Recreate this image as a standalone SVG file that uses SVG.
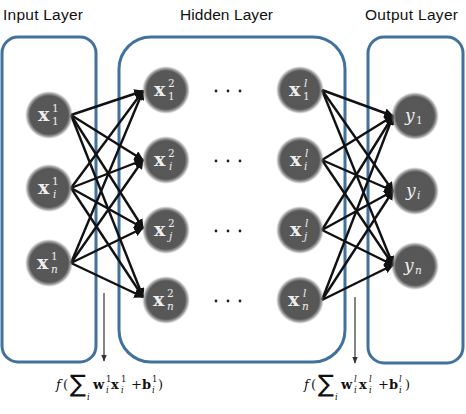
<svg xmlns="http://www.w3.org/2000/svg" width="466" height="414" viewBox="0 0 466 414">
<style>
.box{fill:none;stroke:#41719c;stroke-width:3}
.hdr{font-family:"Liberation Sans",Arial,sans-serif;font-size:15.5px;fill:#111}
.e{stroke:#111;stroke-width:2.4;fill:none;marker-end:url(#ah)}
.v{stroke:#333;stroke-width:1.2;fill:none;marker-end:url(#ah2)}
.nt{font-family:"DejaVu Serif",serif;fill:#eee}
.xb{font-weight:bold;font-size:19px}
.sp{font-size:10.5px}
.it{font-style:italic}
.fm{font-family:"DejaVu Serif",serif;fill:#111;font-size:13px}
.fs{font-family:"DejaVu Serif",serif;fill:#111;font-size:8.5px}
.sg{font-family:"DejaVu Sans",sans-serif;fill:#111;font-size:24px}
</style>
<defs>
<radialGradient id="ng">
<stop offset="0" stop-color="#585858"/>
<stop offset="0.8" stop-color="#575757"/>
<stop offset="0.9" stop-color="#777" stop-opacity="0.7"/>
<stop offset="1" stop-color="#999" stop-opacity="0"/>
</radialGradient>
<marker id="ah" viewBox="0 0 10 10" refX="9" refY="5" markerWidth="4" markerHeight="4" orient="auto" markerUnits="strokeWidth">
<path d="M0,0 L10,5 L0,10 z" fill="#111"/>
</marker>
<marker id="ah2" viewBox="0 0 10 10" refX="9" refY="5" markerWidth="6" markerHeight="6" orient="auto" markerUnits="strokeWidth">
<path d="M0,1 L10,5 L0,9 z" fill="#333"/>
</marker>
</defs>
<rect width="466" height="414" fill="#fff"/>

<text class="hdr" x="3" y="20" textLength="80">Input Layer</text>
<text class="hdr" x="180" y="20" textLength="93">Hidden Layer</text>
<text class="hdr" x="365" y="20" textLength="93">Output Layer</text>

<g id="input-layer"><rect class="box" x="2" y="37" width="94" height="325" rx="16"/></g>
<g id="hidden-layer"><rect class="box" x="119" y="37" width="226" height="325" rx="32"/></g>
<g id="output-layer"><rect class="box" x="368" y="37" width="95" height="326" rx="16"/></g>

<g id="connectors">
<line class="e" x1="71" y1="115" x2="143" y2="91"/>
<line class="e" x1="71" y1="115" x2="143" y2="160"/>
<line class="e" x1="71" y1="115" x2="143" y2="228"/>
<line class="e" x1="71" y1="115" x2="143" y2="297"/>
<line class="e" x1="71" y1="188" x2="143" y2="91"/>
<line class="e" x1="71" y1="188" x2="143" y2="160"/>
<line class="e" x1="71" y1="188" x2="143" y2="228"/>
<line class="e" x1="71" y1="188" x2="143" y2="297"/>
<line class="e" x1="71" y1="263" x2="143" y2="91"/>
<line class="e" x1="71" y1="263" x2="143" y2="160"/>
<line class="e" x1="71" y1="263" x2="143" y2="228"/>
<line class="e" x1="71" y1="263" x2="143" y2="297"/>

<line class="e" x1="322" y1="90" x2="393" y2="116"/>
<line class="e" x1="322" y1="90" x2="393" y2="191"/>
<line class="e" x1="322" y1="90" x2="393" y2="265"/>
<line class="e" x1="322" y1="160" x2="393" y2="116"/>
<line class="e" x1="322" y1="160" x2="393" y2="191"/>
<line class="e" x1="322" y1="160" x2="393" y2="265"/>
<line class="e" x1="322" y1="230" x2="393" y2="116"/>
<line class="e" x1="322" y1="230" x2="393" y2="191"/>
<line class="e" x1="322" y1="230" x2="393" y2="265"/>
<line class="e" x1="322" y1="300" x2="393" y2="116"/>
<line class="e" x1="322" y1="300" x2="393" y2="191"/>
<line class="e" x1="322" y1="300" x2="393" y2="265"/>

<line class="v" x1="104" y1="293" x2="104" y2="361"/>
<line class="v" x1="355" y1="297" x2="355" y2="363"/>
</g>

<g id="in1"><circle cx="49" cy="115" r="24" fill="url(#ng)"/><text class="nt xb" x="38" y="121">x</text><text class="nt sp" x="52" y="112">1</text><text class="nt sp" x="52" y="125">1</text></g>
<g id="in2"><circle cx="49" cy="188" r="24" fill="url(#ng)"/><text class="nt xb" x="38" y="194">x</text><text class="nt sp" x="52" y="185">1</text><text class="nt sp it" x="53" y="198">i</text></g>
<g id="in3"><circle cx="49" cy="263" r="24" fill="url(#ng)"/><text class="nt xb" x="37" y="269">x</text><text class="nt sp" x="51" y="260">1</text><text class="nt sp it" x="51" y="273">n</text></g>

<g id="h1a"><circle cx="166" cy="90" r="24" fill="url(#ng)"/><text class="nt xb" x="154" y="96">x</text><text class="nt sp" x="168" y="87">2</text><text class="nt sp" x="168" y="100">1</text></g>
<g id="h2a"><circle cx="166" cy="160" r="24" fill="url(#ng)"/><text class="nt xb" x="154" y="166">x</text><text class="nt sp" x="168" y="157">2</text><text class="nt sp it" x="169" y="170">i</text></g>
<g id="h3a"><circle cx="166" cy="230" r="24" fill="url(#ng)"/><text class="nt xb" x="154" y="236">x</text><text class="nt sp" x="168" y="227">2</text><text class="nt sp it" x="169" y="240">j</text></g>
<g id="h4a"><circle cx="166" cy="300" r="24" fill="url(#ng)"/><text class="nt xb" x="153" y="306">x</text><text class="nt sp" x="167" y="297">2</text><text class="nt sp it" x="167" y="310">n</text></g>

<g id="dots" fill="#222">
<circle cx="216" cy="91" r="1.4"/><circle cx="228" cy="91" r="1.4"/><circle cx="240" cy="91" r="1.4"/>
<circle cx="216" cy="161" r="1.4"/><circle cx="228" cy="161" r="1.4"/><circle cx="240" cy="161" r="1.4"/>
<circle cx="216" cy="231" r="1.4"/><circle cx="228" cy="231" r="1.4"/><circle cx="240" cy="231" r="1.4"/>
<circle cx="216" cy="301" r="1.4"/><circle cx="228" cy="301" r="1.4"/><circle cx="240" cy="301" r="1.4"/>
</g>

<g id="h1b"><circle cx="300" cy="90" r="24" fill="url(#ng)"/><text class="nt xb" x="289" y="96">x</text><text class="nt sp it" x="304" y="87">l</text><text class="nt sp" x="303" y="100">1</text></g>
<g id="h2b"><circle cx="300" cy="160" r="24" fill="url(#ng)"/><text class="nt xb" x="290" y="166">x</text><text class="nt sp it" x="305" y="157">l</text><text class="nt sp it" x="304" y="170">i</text></g>
<g id="h3b"><circle cx="300" cy="230" r="24" fill="url(#ng)"/><text class="nt xb" x="290" y="236">x</text><text class="nt sp it" x="305" y="227">l</text><text class="nt sp it" x="304" y="240">j</text></g>
<g id="h4b"><circle cx="300" cy="300" r="24" fill="url(#ng)"/><text class="nt xb" x="288" y="306">x</text><text class="nt sp it" x="303" y="297">l</text><text class="nt sp it" x="302" y="310">n</text></g>

<g id="out1"><circle cx="415" cy="116" r="24" fill="url(#ng)"/><text class="nt it" x="405" y="121" font-size="17">y</text><text class="nt sp" x="416" y="124">1</text></g>
<g id="out2"><circle cx="415" cy="191" r="24" fill="url(#ng)"/><text class="nt it" x="406" y="196" font-size="17">y</text><text class="nt sp it" x="417" y="199">i</text></g>
<g id="out3"><circle cx="415" cy="266" r="24" fill="url(#ng)"/><text class="nt it" x="404" y="271" font-size="17">y</text><text class="nt sp it" x="415" y="274">n</text></g>

<g id="formula1">
<text class="fm it" x="56" y="389">f</text>
<text class="fm" x="63" y="389">(</text>
<text class="sg" x="70" y="392">∑</text>
<text class="fs it" x="87" y="400">i</text>
<text class="fm" x="93" y="389" font-weight="bold">w</text>
<text class="fs" x="106" y="382">1</text>
<text class="fs it" x="106" y="393">i</text>
<text class="fm" x="111" y="389" font-weight="bold">x</text>
<text class="fs" x="121" y="382">1</text>
<text class="fs it" x="121" y="393">i</text>
<text class="fm" x="131" y="389">+</text>
<text class="fm" x="142" y="389" font-weight="bold">b</text>
<text class="fs" x="152" y="382">1</text>
<text class="fs it" x="152" y="393">i</text>
<text class="fm" x="158" y="389">)</text>
</g>
<g id="formula2">
<text class="fm it" x="304" y="389">f</text>
<text class="fm" x="311" y="389">(</text>
<text class="sg" x="318" y="392">∑</text>
<text class="fs it" x="335" y="400">i</text>
<text class="fm" x="341" y="389" font-weight="bold">w</text>
<text class="fs it" x="354" y="382">l</text>
<text class="fs it" x="354" y="393">i</text>
<text class="fm" x="359" y="389" font-weight="bold">x</text>
<text class="fs it" x="369" y="382">l</text>
<text class="fs it" x="369" y="393">i</text>
<text class="fm" x="378" y="389">+</text>
<text class="fm" x="389" y="389" font-weight="bold">b</text>
<text class="fs it" x="399" y="382">l</text>
<text class="fs it" x="399" y="393">i</text>
<text class="fm" x="405" y="389">)</text>
</g>
</svg>
